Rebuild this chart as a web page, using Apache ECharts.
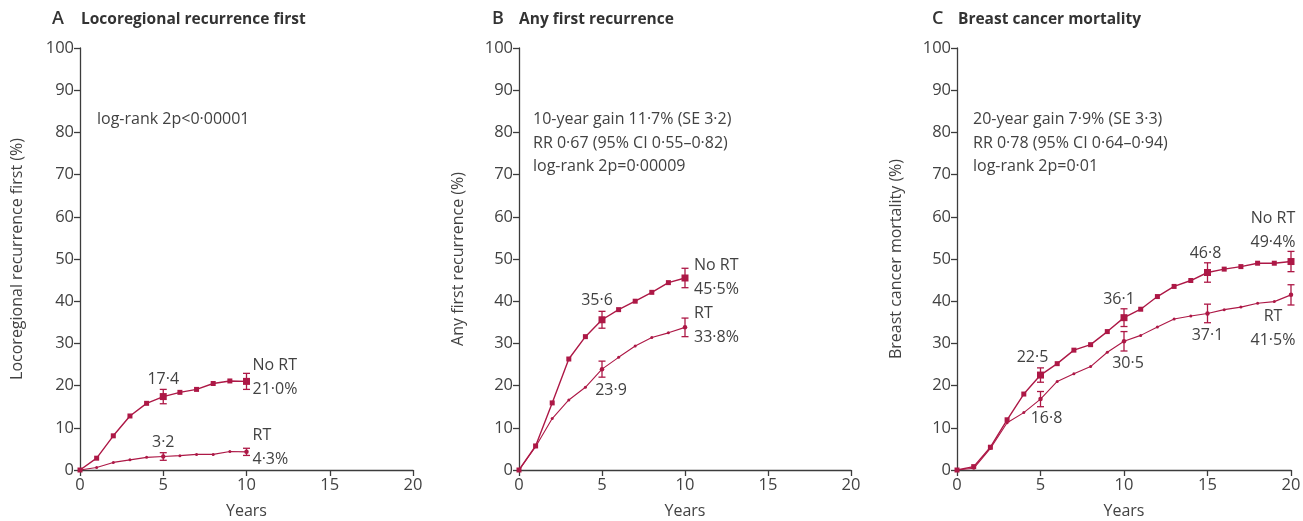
<!DOCTYPE html>
<html>
<head>
<meta charset="utf-8">
<script src="https://cdn.jsdelivr.net/npm/echarts@6/dist/echarts.min.js"></script>
<style>html,body{margin:0;padding:0;background:#fff}#c{width:1303px;height:521px}</style>
</head>
<body>
<div id="c"></div>
<script>
// ---------- DATA ----------
const yearsA = [0,1,2,3,4,5,6,7,8,9,10];
const noRtA  = [0,2.8,8.1,12.8,15.8,17.4,18.4,19.1,20.5,21.1,21.0];
const rtA    = [0,0.6,1.8,2.4,3.0,3.2,3.4,3.7,3.7,4.4,4.3];
const errYearsA = [5,10];
const noRtErrA  = [1.7,1.9];
const rtErrA    = [0.9,0.85];

const yearsB = [0,1,2,3,4,5,6,7,8,9,10];
const noRtB  = [0,5.7,15.9,26.3,31.6,35.6,38.0,40.0,42.1,44.4,45.5];
const rtB    = [0,5.5,12.2,16.6,19.6,23.9,26.7,29.4,31.4,32.5,33.8];
const errYearsB = [5,10];
const noRtErrB  = [2.0,2.3];
const rtErrB    = [1.9,2.2];

const yearsC = [0,1,2,3,4,5,6,7,8,9,10,11,12,13,14,15,16,17,18,19,20];
const noRtC  = [0,0.8,5.4,11.9,18.0,22.5,25.2,28.4,29.7,32.8,36.1,38.1,41.1,43.5,44.9,46.8,47.6,48.2,49.0,49.0,49.4];
const rtC    = [0,0.4,5.1,11.2,13.6,16.8,21.0,22.8,24.5,27.9,30.5,31.9,33.9,35.8,36.5,37.1,38.0,38.6,39.5,39.9,41.5];
const errYearsC = [5,10,15,20];
const noRtErrC  = [1.7,2.1,2.3,2.4];
const rtErrC    = [1.8,2.3,2.2,2.4];

const xTicks = [0,5,10,15,20];
const yTicks = [0,10,20,30,40,50,60,70,80,90,100];

const panelTitles = ['Locoregional recurrence first','Any first recurrence','Breast cancer mortality'];
const panelLetters = ['A','B','C'];
const yNames = ['Locoregional recurrence first (%)','Any first recurrence (%)','Breast cancer mortality (%)'];
const statsA = ['log-rank 2p<0·00001'];
const statsB = ['10-year gain 11·7% (SE 3·2)','RR 0·67 (95% CI 0·55–0·82)','log-rank 2p=0·00009'];
const statsC = ['20-year gain 7·9% (SE 3·3)','RR 0·78 (95% CI 0·64–0·94)','log-rank 2p=0·01'];

// ---------- STYLE ----------
const RED = '#ad1846';
const AX = '#3c3c3c';
const TXT = '#424242';
const FONT = 'Open Sans';
const FS = 16;
const TFS = 16.5;

const grids = [
  {left:80,  top:48, width:333, height:422, outerBoundsMode:'none', containLabel:false},
  {left:519, top:48, width:332, height:422, outerBoundsMode:'none', containLabel:false},
  {left:957, top:48, width:334, height:422, outerBoundsMode:'none', containLabel:false}
];

function pairs(xs, ys){ return xs.map((x,i)=>[x, ys[i]]); }
function errData(xs, ys, eys, es){
  return eys.map((y,i)=>{ const v = ys[xs.indexOf(y)]; return [y, v-es[i], v+es[i]]; });
}
function fmt(v){ return v.toFixed(1).replace('.', '·'); }

function labelPoint(x, y, text, off, align){
  return {coord:[x,y], value:text, symbolSize:0,
    label:{show:true, formatter:text, position:'inside', align:align||'center', verticalAlign:'middle',
      offset:off, color:TXT, fontSize:FS, fontFamily:FONT, lineHeight:24}};
}

const xAxes = grids.map((g,i)=>({
  gridIndex:i, type:'value', min:0, max:20, interval:5,
  name:'Years', nameLocation:'middle', nameGap:33,
  nameTextStyle:{color:TXT, fontSize:FS, fontFamily:FONT},
  axisLine:{show:true, lineStyle:{color:AX, width:1.3}},
  axisTick:{show:true, length:6, lineStyle:{color:AX, width:1.3}},
  axisLabel:{color:TXT, fontSize:TFS, fontFamily:FONT, margin:7, formatter:v=>String(v)},
  splitLine:{show:false}
}));
const yAxes = grids.map((g,i)=>({
  gridIndex:i, type:'value', min:0, max:100, interval:10,
  name:yNames[i], nameLocation:'middle', nameGap:i===0?55:53, nameRotate:90,
  nameTextStyle:{color:TXT, fontSize:FS, fontFamily:FONT},
  axisLine:{show:true, lineStyle:{color:AX, width:1.3}},
  axisTick:{show:true, length:6, lineStyle:{color:AX, width:1.3}},
  axisLabel:{color:TXT, fontSize:TFS, fontFamily:FONT, margin:6},
  splitLine:{show:false}
}));

function errSeries(i, data){
  return {
    type:'custom', xAxisIndex:i, yAxisIndex:i, data:data, z:5,
    renderItem:function(params, api){
      const x = api.value(0);
      const lo = api.coord([x, api.value(1)]);
      const hi = api.coord([x, api.value(2)]);
      const w = 3.5;
      const st = {stroke:RED, lineWidth:1.3};
      return {type:'group', children:[
        {type:'line', shape:{x1:lo[0], y1:lo[1], x2:hi[0], y2:hi[1]}, style:st},
        {type:'line', shape:{x1:lo[0]-w, y1:lo[1], x2:lo[0]+w, y2:lo[1]}, style:st},
        {type:'line', shape:{x1:hi[0]-w, y1:hi[1], x2:hi[0]+w, y2:hi[1]}, style:st}
      ]};
    }
  };
}

function noRtSeries(i, xs, ys, eys, marks){
  return {
    type:'line', xAxisIndex:i, yAxisIndex:i, data:pairs(xs, ys).map(p=>{
      const big = eys.indexOf(p[0])>=0;
      return {value:p, symbolSize: big?7:5};
    }),
    symbol:'rect', symbolSize:5, showSymbol:true,
    lineStyle:{color:RED, width:1.4}, itemStyle:{color:RED}, z:4,
    markPoint:{symbol:'circle', symbolSize:0, data:marks, itemStyle:{color:'transparent'}}
  };
}
function rtSeries(i, xs, ys, eys, marks){
  return {
    type:'line', xAxisIndex:i, yAxisIndex:i, data:pairs(xs, ys).map(p=>{
      const big = eys.indexOf(p[0])>=0;
      return {value:p, symbolSize: big?4.5:3};
    }),
    symbol:'circle', symbolSize:3, showSymbol:true,
    lineStyle:{color:RED, width:1.1}, itemStyle:{color:RED}, z:3,
    markPoint:{symbol:'circle', symbolSize:0, data:marks, itemStyle:{color:'transparent'}}
  };
}

const vA = i=>noRtA[yearsA.indexOf(i)], rA = i=>rtA[yearsA.indexOf(i)];
const vB = i=>noRtB[yearsB.indexOf(i)], rB = i=>rtB[yearsB.indexOf(i)];
const vC = i=>noRtC[yearsC.indexOf(i)], rC = i=>rtC[yearsC.indexOf(i)];

const series = [
  // Panel A
  noRtSeries(0, yearsA, noRtA, errYearsA, [
    labelPoint(5, vA(5), fmt(vA(5)), [0,-17]),
    labelPoint(10, vA(10), 'No RT\n'+fmt(vA(10))+'%', [6,-4], 'left')
  ]),
  rtSeries(0, yearsA, rtA, errYearsA, [
    labelPoint(5, rA(5), fmt(rA(5)), [0,-14]),
    labelPoint(10, rA(10), 'RT\n'+fmt(rA(10))+'%', [6,-4], 'left')
  ]),
  errSeries(0, errData(yearsA, noRtA, errYearsA, noRtErrA)),
  errSeries(0, errData(yearsA, rtA, errYearsA, rtErrA)),
  // Panel B
  noRtSeries(1, yearsB, noRtB, errYearsB, [
    labelPoint(5, vB(5), fmt(vB(5)), [-5,-19]),
    labelPoint(10, vB(10), 'No RT\n'+fmt(vB(10))+'%', [9,-1], 'left')
  ]),
  rtSeries(1, yearsB, rtB, errYearsB, [
    labelPoint(5, rB(5), fmt(rB(5)), [9,21]),
    labelPoint(10, rB(10), 'RT\n'+fmt(rB(10))+'%', [9,-2], 'left')
  ]),
  errSeries(1, errData(yearsB, noRtB, errYearsB, noRtErrB)),
  errSeries(1, errData(yearsB, rtB, errYearsB, rtErrB)),
  // Panel C
  noRtSeries(2, yearsC, noRtC, errYearsC, [
    labelPoint(5, vC(5), fmt(vC(5)), [-8,-18]),
    labelPoint(10, vC(10), fmt(vC(10)), [-5,-18]),
    labelPoint(15, vC(15), fmt(vC(15)), [-2,-19]),
    labelPoint(20, vC(20), 'No RT\n'+fmt(vC(20))+'%', [-18,-31])
  ]),
  rtSeries(2, yearsC, rtC, errYearsC, [
    labelPoint(5, rC(5), fmt(rC(5)), [6,19]),
    labelPoint(10, rC(10), fmt(rC(10)), [4,22]),
    labelPoint(15, rC(15), fmt(rC(15)), [0,22]),
    labelPoint(20, rC(20), 'RT\n'+fmt(rC(20))+'%', [-18,34])
  ]),
  errSeries(2, errData(yearsC, noRtC, errYearsC, noRtErrC)),
  errSeries(2, errData(yearsC, rtC, errYearsC, rtErrC))
];

const letterLeft = [52, 492, 932];
const titleLeft = [81, 519, 958];
const titles = [];
for (let i=0;i<3;i++){
  titles.push({text:panelLetters[i], left:letterLeft[i], top:10, padding:0,
    textStyle:{color:'#333', fontSize:18, fontWeight:600, fontFamily:FONT}});
  titles.push({text:panelTitles[i], left:titleLeft[i], top:12, padding:0,
    textStyle:{color:'#333', fontSize:15.5, fontWeight:'bold', fontFamily:FONT}});
}
const statsLeft = [97, 533, 973];
[statsA, statsB, statsC].forEach((s,i)=>{
  titles.push({text:s.join('\n'), left:statsLeft[i], top:108, padding:0,
    textStyle:{color:TXT, fontSize:FS, fontWeight:'normal', fontFamily:FONT, lineHeight:23.5}});
});

const chart = echarts.init(document.getElementById('c'), null, {renderer:'canvas'});
chart.setOption({
  animation:false,
  backgroundColor:'#fff',
  title:titles,
  grid:grids,
  xAxis:xAxes,
  yAxis:yAxes,
  series:series
});
</script>
</body>
</html>
